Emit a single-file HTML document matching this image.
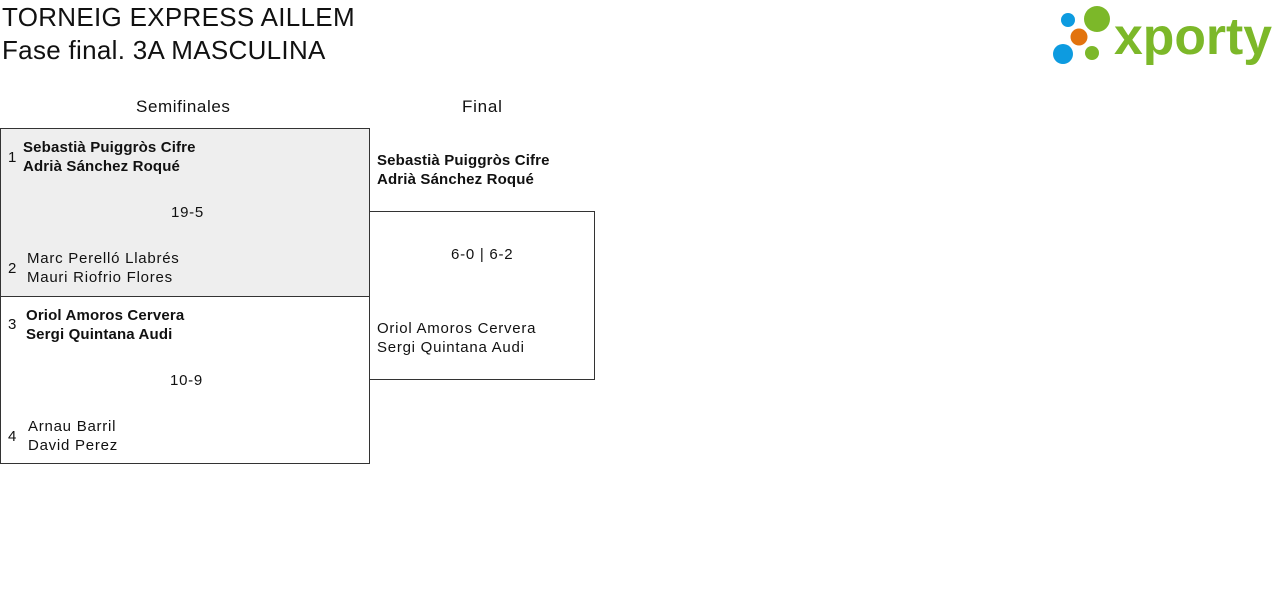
<!DOCTYPE html>
<html><head><meta charset="utf-8"><style>
body{margin:0;width:1280px;height:595px;background:#fff;font-family:"Liberation Sans",sans-serif;color:#111;position:relative;overflow:hidden}
.a{position:absolute;white-space:nowrap}
.t{font-size:26px;letter-spacing:0.3px}
.n{font-size:15px;line-height:19px;letter-spacing:0.75px}
.b{font-weight:bold;letter-spacing:0.15px}
.box{position:absolute;border:1px solid #333;box-sizing:border-box}
</style></head><body>
<div class="a t" style="left:2px;top:2px">TORNEIG EXPRESS AILLEM</div>
<div class="a t" style="left:2px;top:35px">Fase final. 3A MASCULINA</div>
<svg class="a" style="left:1050px;top:4px" width="226" height="62">
<circle cx="18" cy="16" r="7" fill="#0d9be0"/>
<circle cx="47" cy="15" r="13" fill="#7cb829"/>
<circle cx="29" cy="33" r="8.5" fill="#e2730e"/>
<circle cx="13" cy="50" r="10" fill="#0d9be0"/>
<circle cx="42" cy="49" r="7" fill="#7cb829"/>
<text x="64" y="50" font-family="Liberation Sans,sans-serif" font-weight="bold" font-size="52" fill="#7cb829" textLength="158" lengthAdjust="spacingAndGlyphs">xporty</text>
</svg>
<div class="a n" style="left:136px;top:97px;font-size:17px;letter-spacing:0.6px">Semifinales</div>
<div class="a n" style="left:462px;top:97px;font-size:17px">Final</div>
<div class="box" style="left:0;top:128px;width:370px;height:169px;background:#eee"></div>
<div class="box" style="left:0;top:296px;width:370px;height:168px"></div>
<div class="box" style="left:369px;top:211px;width:226px;height:169px"></div>
<div class="a n" style="left:8px;top:148px">1</div>
<div class="a n b" style="left:23px;top:138px">Sebastià Puiggròs Cifre<br>Adrià Sánchez Roqué</div>
<div class="a n" style="left:171px;top:203px">19-5</div>
<div class="a n" style="left:8px;top:259px">2</div>
<div class="a n" style="left:27px;top:249px">Marc Perelló Llabrés<br>Mauri Riofrio Flores</div>
<div class="a n" style="left:8px;top:315px">3</div>
<div class="a n b" style="left:26px;top:306px">Oriol Amoros Cervera<br>Sergi Quintana Audi</div>
<div class="a n" style="left:170px;top:371px">10-9</div>
<div class="a n" style="left:8px;top:427px">4</div>
<div class="a n" style="left:28px;top:417px">Arnau Barril<br>David Perez</div>
<div class="a n b" style="left:377px;top:151px">Sebastià Puiggròs Cifre<br>Adrià Sánchez Roqué</div>
<div class="a n" style="left:451px;top:245px">6-0 | 6-2</div>
<div class="a n" style="left:377px;top:319px">Oriol Amoros Cervera<br>Sergi Quintana Audi</div>
</body></html>
